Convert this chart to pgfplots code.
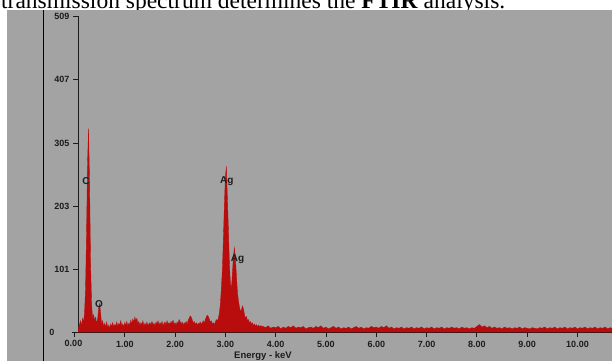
\documentclass[border=0pt]{standalone}
\usepackage{pgfplots}
\pgfplotsset{compat=1.18}
\usepackage{fontspec}
\setmainfont{Liberation Serif}
\newfontfamily\lsans{Liberation Sans}
\definecolor{bggray}{RGB}{163,163,163}
\definecolor{spec}{RGB}{185,12,12}
\definecolor{axcol}{RGB}{28,28,28}
\begin{document}
\begin{tikzpicture}[x=1pt,y=1pt]
\useasboundingbox (0,0) rectangle (612,361);
\clip (0,0) rectangle (612,361);
\fill[white] (0,0) rectangle (612,361);
\node[anchor=base west, inner sep=0, font=\fontsize{23.5}{24}\selectfont] at (1,352.7) {transmission spectrum determines the \textbf{FTIR} analysis.};
\fill[bggray] (7,0) rectangle (612,351);
\draw[black, line width=1pt] (43,0) -- (43,351);
\begin{axis}[
  at={(78pt,29pt)}, anchor=south west, scale only axis,
  width=534pt, height=315.5pt,
  xmin=0.07, xmax=10.686, ymin=0, ymax=509,
  axis x line*=bottom, axis y line*=left,
  axis line style={axcol, line width=0.8pt},
  tick align=outside, major tick length=5pt,
  tick style={axcol, line width=0.8pt},
  xtick={1,2,3,4,5,6,7,8,9,10},
  xticklabels={1.00,2.00,3.00,4.00,5.00,6.00,7.00,8.00,9.00,10.00},
  ytick={101,203,305,407,509},
  yticklabels={101,203,305,407,509},
  tick label style={font=\lsans\bfseries\fontsize{9}{10}\selectfont, text=axcol},
  xticklabel style={yshift=-0.5pt},
  /pgf/number format/assume math mode=true,
  minor tick num=0,
]
\addplot[draw=spec, fill=spec, line width=0.35pt] coordinates {
(0.07,0)(0.08,6)(0.10,12)(0.12,18)(0.14,10)(0.16,22)(0.18,16)(0.20,30)
(0.22,70)(0.24,160)(0.26,275)(0.28,328)(0.30,240)(0.32,110)(0.34,45)(0.36,22)(0.38,28)(0.40,18)(0.42,24)(0.44,14)(0.46,20)
(0.48,38)(0.50,46)(0.52,30)(0.54,12)(0.56,18)(0.58,9)(0.60,14)(0.62,8)(0.64,16)(0.66,7)(0.68,11)(0.70,6)(0.72,13)(0.74,9)(0.76,15)(0.78,8)(0.80,12)
(0.82,10)(0.84,16)(0.86,9)(0.88,14)(0.90,11)(0.92,18)(0.94,10)(0.96,13)(0.98,8)(1.00,15)(1.02,11)(1.04,17)(1.06,9)(1.08,14)(1.10,12)(1.12,19)
(1.14,13)(1.16,21)(1.18,16)(1.20,24)(1.22,18)(1.24,22)(1.26,14)(1.28,17)(1.30,10)(1.32,15)(1.34,12)(1.36,18)(1.38,9)(1.40,14)(1.42,11)(1.44,16)
(1.46,10)(1.48,13)(1.50,15)(1.52,11)(1.54,17)(1.56,12)(1.58,14)(1.60,9)(1.62,16)(1.64,13)(1.66,18)(1.68,11)(1.70,15)(1.72,12)(1.74,17)(1.76,10)
(1.78,14)(1.80,16)(1.82,11)(1.84,18)(1.86,13)(1.88,15)(1.90,12)(1.92,17)(1.94,14)(1.96,19)(1.98,12)(2.00,15)(2.02,11)(2.04,16)(2.06,14)(2.08,20)
(2.10,17)(2.12,13)(2.14,16)(2.16,11)(2.18,15)(2.20,13)(2.22,17)(2.24,12)(2.26,19)(2.28,22)(2.30,26)(2.32,24)(2.34,20)(2.36,14)(2.38,17)(2.40,12)
(2.42,15)(2.44,11)(2.46,14)(2.48,13)(2.50,16)(2.52,12)(2.54,15)(2.56,18)(2.58,14)(2.60,20)(2.62,24)(2.64,27)(2.66,25)(2.68,21)(2.70,16)(2.72,18)
(2.74,13)(2.76,15)(2.78,12)(2.80,16)(2.82,20)(2.84,18)(2.86,22)(2.88,30)(2.90,45)(2.92,70)(2.94,100)(2.96,150)(2.98,205)(3.00,250)(3.02,267)
(3.04,215)(3.06,165)(3.08,110)(3.10,78)(3.12,70)(3.14,95)(3.16,122)(3.18,136)(3.20,118)(3.22,90)(3.24,64)(3.26,50)(3.28,40)(3.30,33)(3.32,36)
(3.34,42)(3.36,37)(3.38,28)(3.40,22)(3.42,25)(3.44,18)(3.46,20)(3.48,14)(3.50,17)(3.52,12)(3.54,15)(3.56,10)(3.58,13)(3.60,9)(3.62,12)(3.64,8)
(3.66,11)(3.68,9)(3.70,10)
(3.75,9)(3.80,7)(3.85,10)(3.90,6)(3.95,8)(4.00,7)(4.05,9)(4.10,5)(4.15,8)(4.20,6)(4.25,9)(4.30,7)(4.35,10)(4.40,6)(4.45,8)(4.50,7)(4.55,9)(4.60,5)
(4.65,7)(4.70,8)(4.75,6)(4.80,9)(4.85,7)(4.90,10)(4.95,6)(5.00,8)(5.05,5)(5.10,7)(5.15,9)(5.20,6)(5.25,8)(5.30,5)(5.35,7)(5.40,6)(5.45,8)(5.50,5)
(5.55,7)(5.60,9)(5.65,6)(5.70,8)(5.75,5)(5.80,7)(5.85,6)(5.90,9)(5.95,7)(6.00,8)(6.05,6)(6.10,9)(6.15,7)(6.20,10)(6.25,6)(6.30,8)(6.35,5)(6.40,7)
(6.45,6)(6.50,8)(6.55,5)(6.60,7)(6.65,6)(6.70,8)(6.75,5)(6.80,7)(6.85,6)(6.90,8)(6.95,5)(7.00,7)(7.05,6)(7.10,8)(7.15,5)(7.20,7)(7.25,6)(7.30,8)
(7.35,5)(7.40,7)(7.45,6)(7.50,8)(7.55,6)(7.60,7)(7.65,5)(7.70,8)(7.75,6)(7.80,7)(7.85,5)(7.90,7)(7.95,6)(8.00,9)(8.05,12)(8.10,8)(8.15,10)(8.20,7)
(8.25,9)(8.30,6)(8.35,8)(8.40,6)(8.45,7)(8.50,5)(8.55,8)(8.60,6)(8.65,7)(8.70,5)(8.75,7)(8.80,6)(8.85,8)(8.90,5)(8.95,7)(9.00,6)(9.05,5)(9.10,7)
(9.15,6)(9.20,5)(9.25,7)(9.30,6)(9.35,8)(9.40,5)(9.45,7)(9.50,6)(9.55,8)(9.60,5)(9.65,7)(9.70,6)(9.75,8)(9.80,5)(9.85,7)(9.90,6)(9.95,8)(10.00,5)
(10.05,7)(10.10,6)(10.15,8)(10.20,5)(10.25,7)(10.30,6)(10.35,8)(10.40,5)(10.45,7)(10.50,6)(10.55,8)(10.60,5)(10.65,7)(10.686,6)
} \closedcycle;
\node[font=\lsans\bfseries\fontsize{10}{10}\selectfont, text=axcol] at (axis cs:0.23,243) {C};
\node[font=\lsans\bfseries\fontsize{10}{10}\selectfont, text=axcol] at (axis cs:0.49,45) {O};
\node[font=\lsans\bfseries\fontsize{10}{10}\selectfont, text=axcol] at (axis cs:3.03,243) {Ag};
\node[font=\lsans\bfseries\fontsize{10}{10}\selectfont, text=axcol] at (axis cs:3.24,118) {Ag};
\end{axis}
\draw[axcol, line width=0.8pt] (72,29) -- (78,29);
\draw[axcol, line width=0.8pt] (74.5,29) -- (74.5,24);
\node[font=\lsans\bfseries\fontsize{9}{10}\selectfont, text=axcol] at (52,29) {0};
\node[font=\lsans\bfseries\fontsize{9}{10}\selectfont, text=axcol] at (73.5,17.2) {0.00};
\node[font=\lsans\bfseries\fontsize{9.5}{10}\selectfont, text=axcol] at (263,4.5) {Energy - keV};
\end{tikzpicture}
\end{document}
